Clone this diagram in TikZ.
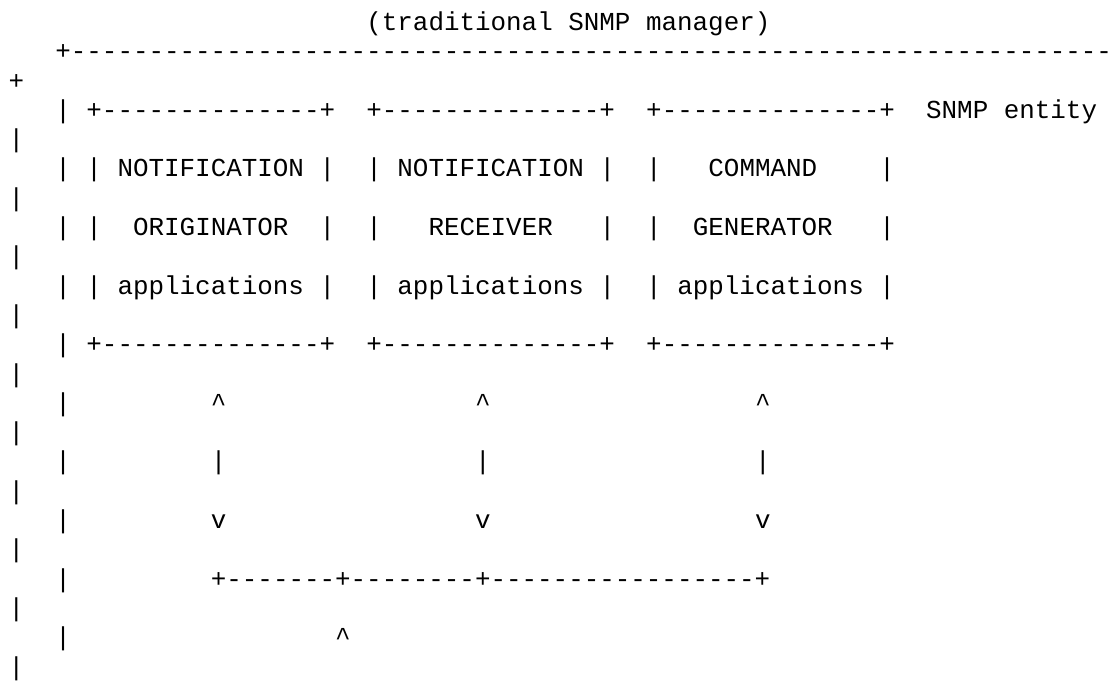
\documentclass[tikz,border=0pt]{standalone}
\usepackage{fontspec}
\setmonofont{Liberation Mono}
\usepackage{tikz}

\begin{document}
\begin{tikzpicture}[x=7.775pt,y=14.65pt,yscale=-1,xscale=1,
  ascii/.style={anchor=base west,inner sep=0pt,font=\ttfamily\fontsize{12.95pt}{14pt}\selectfont}]
\useasboundingbox (-0.534,-0.041) rectangle (70.98,23.17);

% Text Node
\node [ascii] (title) at (23,1) {(traditional SNMP manager)};
% Text Node
\node [ascii] (frametop) at (3,2) {+-------------------------------------------------------------------};
\node [ascii] (wrap3) at (0,3) {+};

% Text Node
\node [ascii] (bar4) at (3,4) {|};
\node [ascii] (origtop) at (5,4) {+--------------+};
\node [ascii] (recvtop) at (23,4) {+--------------+};
\node [ascii] (gentop) at (41,4) {+--------------+};
\node [ascii] (entity) at (59,4) {SNMP entity};
\node [ascii] (wrap5) at (0,5) {|};

% Text Node
\node [ascii] (bar6) at (3,6) {|};
\node [ascii] (origL6) at (5,6) {|};
\node [ascii] (orig1) at (7,6) {NOTIFICATION};
\node [ascii] (origR6) at (20,6) {|};
\node [ascii] (recvL6) at (23,6) {|};
\node [ascii] (recv1) at (25,6) {NOTIFICATION};
\node [ascii] (recvR6) at (38,6) {|};
\node [ascii] (genL6) at (41,6) {|};
\node [ascii] (gen1) at (45,6) {COMMAND};
\node [ascii] (genR6) at (56,6) {|};
\node [ascii] (wrap7) at (0,7) {|};

% Text Node
\node [ascii] (bar8) at (3,8) {|};
\node [ascii] (origL8) at (5,8) {|};
\node [ascii] (orig2) at (8,8) {ORIGINATOR};
\node [ascii] (origR8) at (20,8) {|};
\node [ascii] (recvL8) at (23,8) {|};
\node [ascii] (recv2) at (27,8) {RECEIVER};
\node [ascii] (recvR8) at (38,8) {|};
\node [ascii] (genL8) at (41,8) {|};
\node [ascii] (gen2) at (44,8) {GENERATOR};
\node [ascii] (genR8) at (56,8) {|};
\node [ascii] (wrap9) at (0,9) {|};

% Text Node
\node [ascii] (bar10) at (3,10) {|};
\node [ascii] (origL10) at (5,10) {|};
\node [ascii] (orig3) at (7,10) {applications};
\node [ascii] (origR10) at (20,10) {|};
\node [ascii] (recvL10) at (23,10) {|};
\node [ascii] (recv3) at (25,10) {applications};
\node [ascii] (recvR10) at (38,10) {|};
\node [ascii] (genL10) at (41,10) {|};
\node [ascii] (gen3) at (43,10) {applications};
\node [ascii] (genR10) at (56,10) {|};
\node [ascii] (wrap11) at (0,11) {|};

% Text Node
\node [ascii] (bar12) at (3,12) {|};
\node [ascii] (origbot) at (5,12) {+--------------+};
\node [ascii] (recvbot) at (23,12) {+--------------+};
\node [ascii] (genbot) at (41,12) {+--------------+};
\node [ascii] (wrap13) at (0,13) {|};

% Text Node
\node [ascii] (bar14) at (3,14) {|};
\node [ascii] (origup) at (13,14) {\textasciicircum};
\node [ascii] (recvup) at (30,14) {\textasciicircum};
\node [ascii] (genup) at (48,14) {\textasciicircum};
\node [ascii] (wrap15) at (0,15) {|};

% Text Node
\node [ascii] (bar16) at (3,16) {|};
\node [ascii] (origmid) at (13,16) {|};
\node [ascii] (recvmid) at (30,16) {|};
\node [ascii] (genmid) at (48,16) {|};
\node [ascii] (wrap17) at (0,17) {|};

% Text Node
\node [ascii] (bar18) at (3,18) {|};
\node [ascii] (origdown) at (13,18) {v};
\node [ascii] (recvdown) at (30,18) {v};
\node [ascii] (gendown) at (48,18) {v};
\node [ascii] (wrap19) at (0,19) {|};

% Text Node
\node [ascii] (bar20) at (3,20) {|};
\node [ascii] (join) at (13,20) {+-------+--------+-----------------+};
\node [ascii] (wrap21) at (0,21) {|};

% Text Node
\node [ascii] (bar22) at (3,22) {|};
\node [ascii] (joinup) at (21,22) {\textasciicircum};
\node [ascii] (wrap23) at (0,23) {|};

\end{tikzpicture}
\end{document}
